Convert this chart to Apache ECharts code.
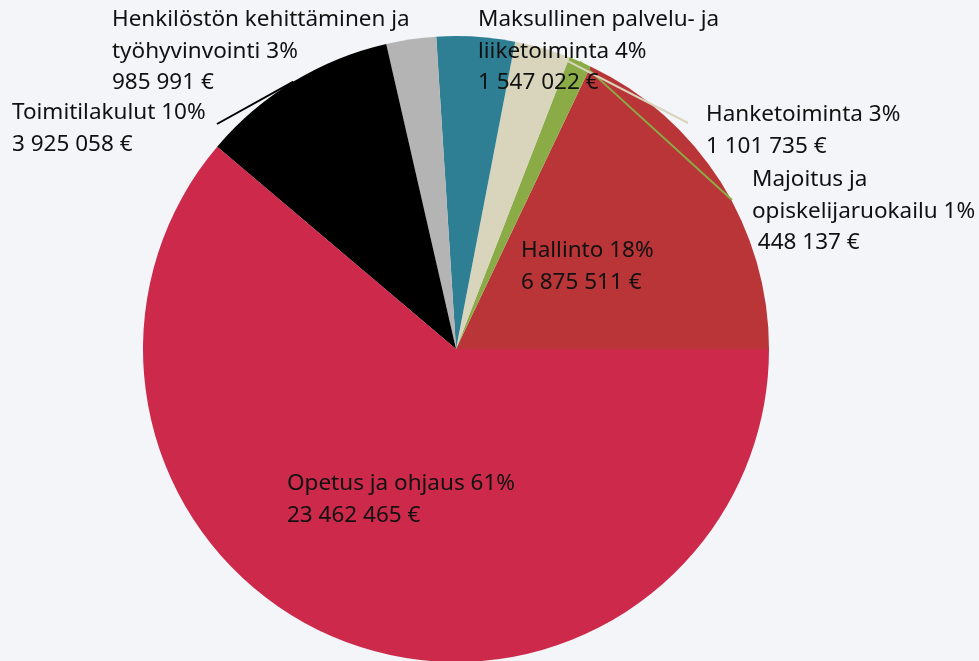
<!DOCTYPE html>
<html>
<head>
<meta charset="utf-8">
<script src="https://cdn.jsdelivr.net/npm/echarts@6/dist/echarts.min.js"></script>
<style>
  html, body { margin: 0; padding: 0; background: #F4F5F9; }
  #chart { width: 979px; height: 661px; }
</style>
</head>
<body>
<div id="chart"></div>
<script>
// data, counter-clockwise from 3 o'clock
var categories = [
  'Hallinto',
  'Majoitus ja\nopiskelijaruokailu',
  'Hanketoiminta',
  'Maksullinen palvelu- ja\nliiketoiminta',
  'Henkilöstön kehittäminen ja\ntyöhyvinvointi',
  'Toimitilakulut',
  'Opetus ja ohjaus'
];
var amounts = [6875511, 448137, 1101735, 1547022, 985991, 3925058, 23462465];
var colors = ['#B93537', '#8AAB45', '#D9D4BC', '#2E7F93', '#B4B4B4', '#000000', '#CC294B'];

// label placement (top-left of text block) and leader end point, null = no line
var labelPos = [
  { x: 521, y: 235, line: null },
  { x: 752, y: 164, line: [732, 200] },
  { x: 706, y: 99, line: [688, 123] },
  { x: 478, y: 4, line: null },
  { x: 112, y: 4, line: null },
  { x: 12, y: 97, line: [217, 124] },
  { x: 287, y: 468, line: null }
];

function euro(v) {
  return String(v).replace(/\B(?=(\d{3})+(?!\d))/g, ' ') + ' €';
}

var chart = echarts.init(document.getElementById('chart'));

var pieBase = {
  type: 'pie',
  center: [456, 349],
  radius: 313,
  startAngle: 0,
  clockwise: false,
  percentPrecision: 0,
  avoidLabelOverlap: false,
  silent: true
};

// bottom layer: the slices only
var slices = Object.assign({}, pieBase, {
  z: 2,
  label: { show: false },
  labelLine: { show: false },
  data: categories.map(function (name, i) {
    return { name: name, value: amounts[i], itemStyle: { color: colors[i] } };
  })
});

// top layer: invisible slices carrying labels and leader lines above every slice
var labels = Object.assign({}, pieBase, {
  z: 3,
  data: categories.map(function (name, i) {
    return {
      name: name,
      value: amounts[i],
      itemStyle: { color: 'rgba(0,0,0,0)' },
      labelLine: {
        show: labelPos[i].line !== null,
        lineStyle: { color: colors[i], width: 2 }
      }
    };
  }),
  label: {
    show: true,
    position: 'outside',
    color: '#111',
    fontFamily: 'Noto Sans',
    fontSize: 22.5,
    lineHeight: 31.5,
    formatter: function (p) {
      var sep = p.name.indexOf('Majoitus') === 0 ? '\n ' : '\n';
      return p.name + ' ' + p.percent + '%' + sep + euro(p.value);
    }
  },
  labelLine: { length: 10, length2: 10 },
  labelLayout: function (params) {
    var pos = labelPos[params.dataIndex];
    var out = { x: pos.x, y: pos.y, align: 'left', verticalAlign: 'top' };
    if (pos.line && params.labelLinePoints) {
      out.labelLinePoints = [params.labelLinePoints[0], pos.line];
    }
    return out;
  }
});

chart.setOption({
  backgroundColor: '#F4F5F9',
  animation: false,
  series: [slices, labels]
});
</script>
</body>
</html>
